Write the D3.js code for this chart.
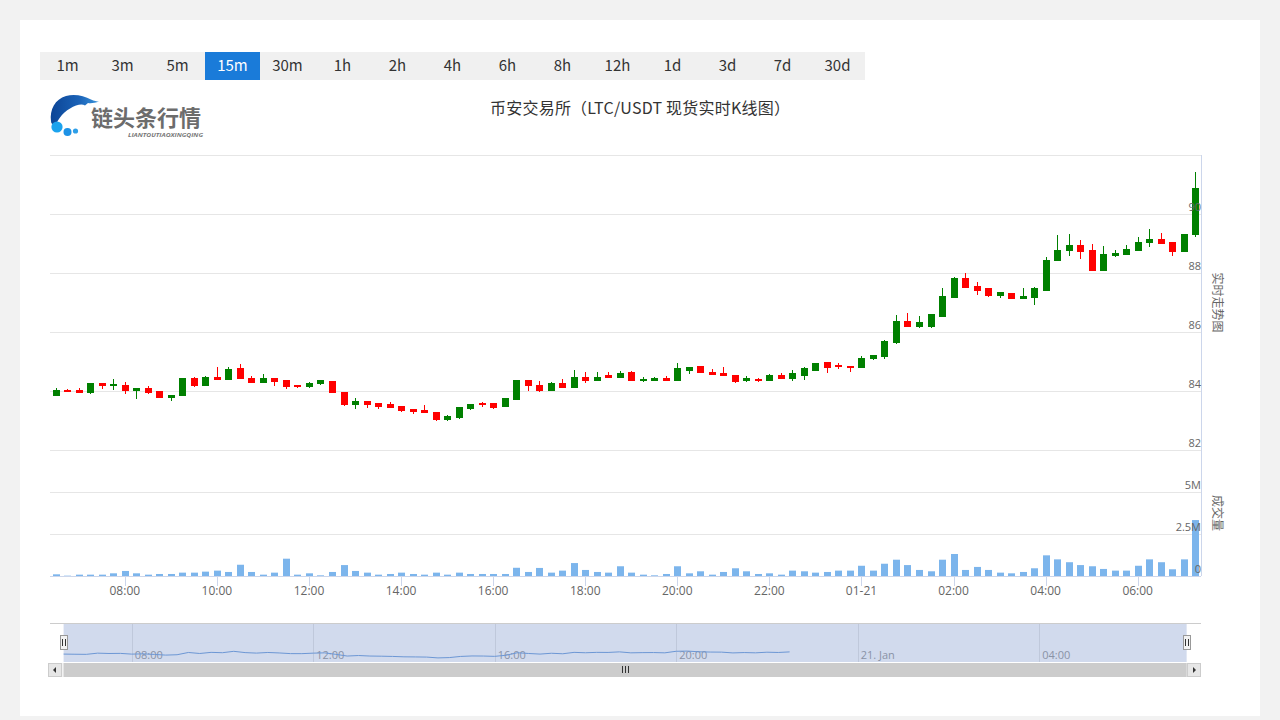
<!DOCTYPE html>
<html><head><meta charset="utf-8">
<script src="https://cdn.jsdelivr.net/npm/d3@7"></script>
<style>
html,body{margin:0;padding:0;background:#f2f2f2;}
svg{display:block;}
</style></head>
<body>
<svg id="chart" width="1280" height="720"></svg>
<script>
// ---------------- DATA ----------------
const periods = ["1m","3m","5m","15m","30m","1h","2h","4h","6h","8h","12h","1d","3d","7d","30d"];
const activePeriod = "15m";
const chartTitle = "币安交易所（LTC/USDT 现货实时K线图）";
const priceAxisTitle = "实时走势图";
const volumeAxisTitle = "成交量";
const logoText = "链头条行情";
const logoSubText = "LIANTOUTIAOXINGQING";
const startTime = "2021-01-20T06:30:00";
const intervalMinutes = 15;
const navigatorStart = "2021-01-20T06:12:00";
const navigatorEnd = "2021-01-21T07:34:00";
const navigatorLastTime = "2021-01-20T22:30:00";

const openValues = [83.86,84.02,84.01,83.94,84.27,84.18,84.20,84.02,84.10,83.98,
83.77,83.84,84.44,84.18,84.47,84.38,84.75,84.44,84.28,84.44,
84.35,84.18,84.14,84.25,84.32,83.94,83.53,83.66,83.56,83.53,
83.47,83.36,83.33,83.28,83.05,83.09,83.39,83.56,83.56,83.47,
83.72,84.37,84.20,84.03,84.27,84.11,84.47,84.37,84.51,84.45,
84.64,84.35,84.36,84.42,84.35,84.71,84.82,84.64,84.59,84.51,
84.35,84.38,84.35,84.53,84.44,84.53,84.71,84.95,84.88,84.82,
84.80,85.11,85.18,85.66,86.34,86.17,86.17,86.52,87.18,87.83,
87.54,87.47,87.23,87.31,87.13,87.18,87.42,88.42,88.76,88.92,
88.76,88.08,88.58,88.64,88.76,89.03,89.12,89.02,88.72,89.29];
const highValues = [84.10,84.08,84.09,84.27,84.27,84.41,84.29,84.08,84.16,84.00,
83.86,84.44,84.47,84.51,84.81,84.81,84.92,84.51,84.58,84.44,
84.35,84.21,84.31,84.34,84.34,83.98,83.75,83.66,83.56,83.63,
83.47,83.36,83.53,83.28,83.19,83.47,83.55,83.62,83.56,83.73,
84.37,84.37,84.34,84.29,84.41,84.71,84.63,84.63,84.63,84.67,
84.68,84.48,84.46,84.51,84.96,84.80,84.86,84.74,84.82,84.51,
84.51,84.44,84.57,84.60,84.71,84.80,84.92,84.98,84.94,84.82,
85.20,85.19,85.73,86.58,86.64,86.54,86.61,87.49,87.86,87.99,
87.71,87.49,87.36,87.31,87.49,87.54,88.55,89.29,89.32,89.12,
88.98,88.92,88.78,88.95,89.21,89.49,89.36,89.02,89.32,91.42];
const lowValues = [83.83,83.96,83.95,83.91,84.08,84.04,83.89,83.72,83.89,83.77,
83.67,83.84,84.15,84.18,84.38,84.38,84.41,84.28,84.28,84.18,
84.08,84.10,84.11,84.21,83.96,83.50,83.38,83.43,83.39,83.43,
83.28,83.22,83.26,82.99,82.99,83.04,83.36,83.47,83.39,83.47,
83.72,84.01,83.98,84.00,84.11,84.11,84.27,84.37,84.45,84.44,
84.35,84.32,84.35,84.35,84.35,84.57,84.62,84.55,84.51,84.27,
84.32,84.31,84.35,84.42,84.35,84.38,84.71,84.62,84.74,84.64,
84.80,85.05,85.08,85.59,86.17,86.14,86.14,86.52,87.18,87.52,
87.26,87.19,87.14,87.11,87.11,86.93,87.42,88.42,88.59,88.46,
88.08,88.08,88.55,88.62,88.76,88.89,88.99,88.59,88.72,89.23];
const closeValues = [84.03,83.99,83.96,84.27,84.18,84.21,84.02,84.08,83.94,83.77,
83.86,84.44,84.18,84.47,84.38,84.74,84.41,84.28,84.44,84.32,
84.15,84.14,84.27,84.34,83.96,83.53,83.66,83.53,83.49,83.43,
83.33,83.30,83.26,83.05,83.13,83.43,83.55,83.53,83.45,83.73,
84.37,84.18,84.03,84.24,84.11,84.47,84.37,84.47,84.45,84.60,
84.35,84.40,84.42,84.35,84.75,84.80,84.62,84.55,84.53,84.33,
84.42,84.35,84.51,84.44,84.59,84.75,84.92,84.80,84.82,84.79,
85.11,85.19,85.69,86.34,86.20,86.31,86.61,87.19,87.83,87.52,
87.42,87.23,87.33,87.13,87.19,87.49,88.44,88.76,88.92,88.72,
88.08,88.64,88.67,88.78,89.05,89.12,88.99,88.72,89.32,90.85];
// volume in millions
const volumeValues = [0.10,0.02,0.08,0.08,0.08,0.16,0.30,0.16,0.08,0.12,
0.12,0.20,0.20,0.26,0.32,0.24,0.67,0.24,0.08,0.20,
1.03,0.08,0.16,0.04,0.24,0.65,0.30,0.20,0.08,0.12,
0.20,0.12,0.08,0.20,0.08,0.20,0.12,0.12,0.12,0.12,
0.49,0.24,0.48,0.20,0.32,0.77,0.36,0.24,0.20,0.58,
0.20,0.08,0.04,0.12,0.58,0.16,0.28,0.08,0.24,0.46,
0.28,0.12,0.16,0.08,0.32,0.28,0.20,0.24,0.32,0.32,
0.61,0.32,0.73,0.97,0.65,0.36,0.28,0.97,1.31,0.36,
0.54,0.36,0.20,0.16,0.24,0.46,1.23,0.99,0.82,0.65,
0.58,0.42,0.32,0.32,0.61,0.99,0.82,0.40,0.99,3.33];
const priceTicks = [82,84,86,88,90,92];
const volumeTicks = [0,2.5,5,7.5];

// ---------------- LAYOUT ----------------
const svg = d3.select("#chart");
const FONT = "'Open Sans','DejaVu Sans',sans-serif";
const CJK = "'Noto Sans CJK SC','Noto Sans',sans-serif";
const upColor = "#008000", downColor = "#ff0000";

svg.append("rect").attr("x",20).attr("y",20).attr("width",1240).attr("height",696).attr("fill","#fff");

// period buttons
const btnX = d3.scaleBand().domain(periods).range([40, 865]);
const btns = svg.append("g");
btns.append("rect").attr("x",40).attr("y",52).attr("width",825).attr("height",28).attr("fill","#f0f0f0");
btns.selectAll("rect.active").data(periods.filter(p=>p===activePeriod)).join("rect")
  .attr("class","active").attr("x",d=>btnX(d)).attr("y",52).attr("width",btnX.bandwidth()).attr("height",28).attr("fill","#1a7bd9");
btns.selectAll("text").data(periods).join("text")
  .attr("x",d=>btnX(d)+btnX.bandwidth()/2).attr("y",71).attr("text-anchor","middle")
  .attr("font-family",CJK).attr("font-size",15).attr("fill",d=>d===activePeriod?"#fff":"#333").text(d=>d);

// logo
const defs = svg.append("defs");
const lg = defs.append("linearGradient").attr("id","logoGrad").attr("x1","0").attr("y1","0").attr("x2","1").attr("y2","0");
lg.append("stop").attr("offset","0").attr("stop-color","#0c4596");
lg.append("stop").attr("offset","0.6").attr("stop-color","#1b63b8");
lg.append("stop").attr("offset","1").attr("stop-color","#3a95dc");
const logo = svg.append("g");
logo.append("path").attr("fill","url(#logoGrad)")
  .attr("d","M51,121 C49.5,110 55,99 66,96 C75,93.5 84,96 91,99.5 C94,101 97,101.5 99,101.5 C95,103 91,103.5 88,103 L85,105.5 C83,104 80,104 76,105.5 C68,108.5 60,115 56,124.5 C53,125 51,124 51,121 Z");
logo.append("circle").attr("cx",57).attr("cy",127).attr("r",5.6).attr("fill","#1ba3ee");
logo.append("circle").attr("cx",67.5).attr("cy",132).attr("r",4).attr("fill","#1d92e6");
logo.append("circle").attr("cx",75.5).attr("cy",131).attr("r",2.6).attr("fill","#2e9fe8");
logo.append("text").attr("x",91).attr("y",126).attr("font-family",CJK).attr("font-weight","bold")
  .attr("font-size",22).attr("fill","#6c6c6c").text(logoText);
logo.append("text").attr("x",128).attr("y",137).attr("font-family",FONT).attr("font-weight","bold").attr("font-style","italic")
  .attr("font-size",5.5).attr("fill","#777").attr("textLength",75).attr("lengthAdjust","spacingAndGlyphs").text(logoSubText);

// title
svg.append("text").attr("x",640).attr("y",114).attr("text-anchor","middle").attr("font-family",CJK)
  .attr("font-size",16).attr("fill","#333").attr("textLength",300).attr("lengthAdjust","spacing").text(chartTitle);

// ---------------- SCALES ----------------
const parseTime = d3.timeParse("%Y-%m-%dT%H:%M:%S");
const t0 = parseTime(startTime);
const times = closeValues.map((_, i) => new Date(+t0 + i*intervalMinutes*60000));
const halfStep = intervalMinutes*30000;
const plotLeft = 50, plotRight = 1201;
const x = d3.scaleTime()
  .domain([new Date(+times[0]-halfStep), new Date(+times[times.length-1]+halfStep)])
  .range([plotLeft, plotRight]);
const yPrice = d3.scaleLinear().domain([82,92]).range([450,155]);
const yVol = d3.scaleLinear().domain([0,7.5]).range([576,450]);

const data = times.map((t,i)=>({t, o:openValues[i], h:highValues[i], l:lowValues[i], c:closeValues[i], v:volumeValues[i]}));

// gridlines
const grid = svg.append("g").attr("stroke","#e6e6e6").attr("shape-rendering","crispEdges");
grid.selectAll("line.p").data(priceTicks).join("line").attr("class","p")
  .attr("x1",plotLeft).attr("x2",plotRight).attr("y1",d=>Math.round(yPrice(d))+0.5).attr("y2",d=>Math.round(yPrice(d))+0.5);
grid.selectAll("line.v").data(volumeTicks).join("line").attr("class","v")
  .attr("x1",plotLeft).attr("x2",plotRight).attr("y1",d=>Math.round(yVol(d))+0.5).attr("y2",d=>Math.round(yVol(d))+0.5);

// axis lines
svg.append("line").attr("x1",plotRight+0.5).attr("x2",plotRight+0.5).attr("y1",155).attr("y2",576).attr("stroke","#ccd6eb");
svg.append("line").attr("x1",plotLeft).attr("x2",plotRight).attr("y1",576.5).attr("y2",576.5).attr("stroke","#ccd6eb");

// x axis ticks & labels
const xTicks = x.ticks(d3.timeHour.every(2));
const fmtHM = d3.timeFormat("%H:%M"), fmtMD = d3.timeFormat("%m-%d");
const xa = svg.append("g");
xa.selectAll("line").data(xTicks).join("line")
  .attr("x1",d=>Math.round(x(d))+0.5).attr("x2",d=>Math.round(x(d))+0.5).attr("y1",577).attr("y2",586).attr("stroke","#ccd6eb");
xa.selectAll("text").data(xTicks).join("text")
  .attr("x",d=>x(d)).attr("y",595).attr("text-anchor","middle").attr("font-family",FONT).attr("font-size",12).attr("fill","#666")
  .text(d=>d.getHours()===0&&d.getMinutes()===0?fmtMD(d):fmtHM(d));

// axis titles
svg.append("text").attr("transform",`translate(1213,${(yPrice(92)+yPrice(82))/2}) rotate(90)`).attr("text-anchor","middle")
  .attr("font-family",CJK).attr("font-size",12).attr("fill","#666").text(priceAxisTitle);
svg.append("text").attr("transform",`translate(1213,${(yVol(0)+yVol(7.5))/2}) rotate(90)`).attr("text-anchor","middle")
  .attr("font-family",CJK).attr("font-size",12).attr("fill","#666").text(volumeAxisTitle);

// candles
const cw = 6;
const cg = svg.append("g").attr("shape-rendering","crispEdges");
const candle = cg.selectAll("g").data(data).join("g");
candle.append("line")
  .attr("x1",d=>Math.round(x(d.t))+0.5).attr("x2",d=>Math.round(x(d.t))+0.5)
  .attr("y1",d=>yPrice(d.h)).attr("y2",d=>yPrice(d.l))
  .attr("stroke",d=>d.c>=d.o?upColor:downColor);
candle.append("rect")
  .attr("x",d=>Math.round(x(d.t))-cw/2+0.5).attr("width",cw)
  .attr("y",d=>yPrice(Math.max(d.o,d.c)))
  .attr("height",d=>Math.max(1,Math.abs(yPrice(d.o)-yPrice(d.c))))
  .attr("fill",d=>d.c>=d.o?upColor:downColor).attr("stroke",d=>d.c>=d.o?upColor:downColor);

// volume
svg.append("g").selectAll("rect").data(data).join("rect")
  .attr("x",d=>Math.round(x(d.t))-3).attr("width",7)
  .attr("y",d=>yVol(d.v)).attr("height",d=>yVol(0)-yVol(d.v)).attr("fill","#7cb5ec");

// y labels (drawn above series)
const ylab = svg.append("g").attr("font-family",FONT).attr("font-size",11).attr("fill","#666").attr("text-anchor","end");
ylab.selectAll("text.p").data(priceTicks.slice(0,-1)).join("text").attr("class","p")
  .attr("x",plotRight).attr("y",d=>yPrice(d)-3).text(d=>d);
ylab.selectAll("text.v").data(volumeTicks.slice(0,-1)).join("text").attr("class","v")
  .attr("x",plotRight).attr("y",d=>yVol(d)-3).text(d=>d===0?"0":d+"M");

// ---------------- NAVIGATOR ----------------
const navTop = 623, navBottom = 662;
const xNav = d3.scaleTime().domain([parseTime(navigatorStart), parseTime(navigatorEnd)]).range([plotLeft, plotRight]);
const yNav = d3.scaleLinear().domain([82,92]).range([navBottom, navTop]);
const nav = svg.append("g");
const navTicks = xNav.ticks(d3.timeHour.every(4));
const fmtDay = d3.timeFormat("%d. %b");
nav.selectAll("line.g").data(navTicks).join("line").attr("class","g")
  .attr("x1",d=>Math.round(xNav(d))+0.5).attr("x2",d=>Math.round(xNav(d))+0.5).attr("y1",navTop).attr("y2",navBottom).attr("stroke","#e6e6e6");
nav.selectAll("text").data(navTicks).join("text")
  .attr("x",d=>xNav(d)+3).attr("y",659).attr("font-family",FONT).attr("font-size",11).attr("fill","#999")
  .text(d=>d.getHours()===0?fmtDay(d):fmtHM(d));
const navLast = parseTime(navigatorLastTime);
nav.append("path").datum(data.filter(d=>d.t<=navLast))
  .attr("fill","none").attr("stroke","#6f9fdc").attr("stroke-width",1)
  .attr("d",d3.line().x(d=>xNav(d.t)).y(d=>yNav(d.c)));
const mx0 = xNav(times[0]), mx1 = xNav(times[times.length-1]);
nav.append("rect").attr("x",mx0).attr("y",navTop).attr("width",mx1-mx0).attr("height",navBottom-navTop)
  .attr("fill","rgba(102,133,194,0.3)");
nav.append("line").attr("x1",plotLeft).attr("x2",plotRight).attr("y1",navTop+0.5).attr("y2",navTop+0.5).attr("stroke","#ccc");
[mx0,mx1].forEach(hx=>{
  const hxr = Math.round(hx);
  nav.append("rect").attr("x",hxr-3.5).attr("y",635.5).attr("width",7).attr("height",14).attr("fill","#f2f2f2").attr("stroke","#999");
  nav.append("path").attr("d",`M${hxr-1.5},639 V646 M${hxr+1.5},639 V646`).attr("stroke","#333").attr("fill","none");
});

// scrollbar
const sbY = 663, sbH = 14;
nav.append("rect").attr("x",plotLeft).attr("y",sbY).attr("width",plotRight-plotLeft).attr("height",sbH).attr("fill","#f2f2f2");
nav.append("rect").attr("x",mx0).attr("y",sbY).attr("width",mx1-mx0).attr("height",sbH).attr("fill","#cccccc");
const rc = Math.round((mx0+mx1)/2);
nav.append("path").attr("d",`M${rc-2.5},666 V673 M${rc+0.5},666 V673 M${rc+3.5},666 V673`).attr("stroke","#333").attr("fill","none");
nav.append("rect").attr("x",plotLeft-1.5).attr("y",sbY+0.5).attr("width",13).attr("height",sbH-1).attr("fill","#e6e6e6").attr("stroke","#ccc");
nav.append("rect").attr("x",plotRight-13.5).attr("y",sbY+0.5).attr("width",13).attr("height",sbH-1).attr("fill","#e6e6e6").attr("stroke","#ccc");
nav.append("path").attr("d",`M${plotLeft+3},${sbY+7} l3,-3 v6 z`).attr("fill","#333");
nav.append("path").attr("d",`M${plotRight-5},${sbY+7} l-3,-3 v6 z`).attr("fill","#333");
</script>
</body></html>
